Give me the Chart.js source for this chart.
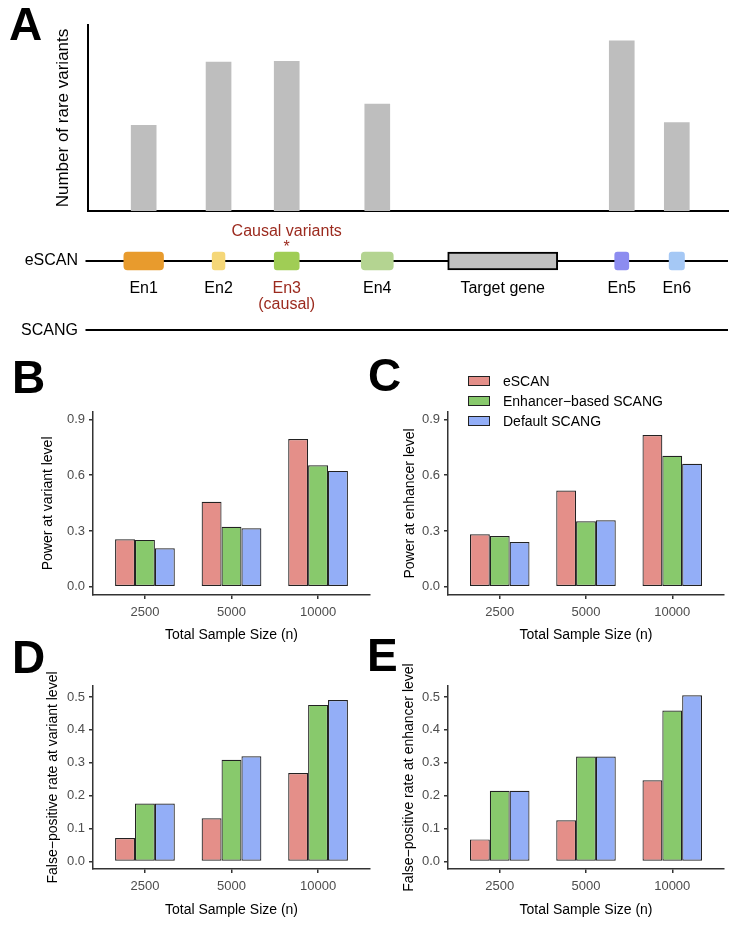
<!DOCTYPE html>
<html>
<head>
<meta charset="utf-8">
<script src="https://cdn.jsdelivr.net/npm/chart.js@4.4.0/dist/chart.umd.min.js"></script>
<style>
  body { margin: 0; background: #fff; }
  #fig { position: relative; width: 750px; height: 930px; overflow: hidden; font-family: 'Liberation Sans', Arial, sans-serif; }
  canvas { position: absolute; }
  .tag { position: absolute; font-weight: bold; font-size: 46px; line-height: 1; color: #000; }
  .legend { position: absolute; left: 468px; top: 371px; font-size: 14px; color: #000; }
  .legend div { height: 20px; display: flex; align-items: center; white-space: nowrap; }
  .legend .box { width: 20px; height: 8px; border: 1px solid #222; margin-right: 13px; }
</style>
</head>
<body>
<div id="fig">
  <canvas id="cA" width="750" height="215" style="left:0;top:0"></canvas>
  <canvas id="cT" width="750" height="130" style="left:0;top:220px"></canvas>
  <canvas id="cB" width="375" height="250" style="left:0;top:400px"></canvas>
  <canvas id="cC" width="375" height="250" style="left:375px;top:400px"></canvas>
  <canvas id="cD" width="375" height="270" style="left:0;top:660px"></canvas>
  <canvas id="cE" width="375" height="270" style="left:375px;top:660px"></canvas>

  <div class="tag" style="left:9px;top:1px">A</div>
  <div class="tag" style="left:12px;top:354px">B</div>
  <div class="tag" style="left:368px;top:352px">C</div>
  <div class="tag" style="left:12px;top:634px">D</div>
  <div class="tag" style="left:367px;top:632px">E</div>

  <div class="legend" id="legend"></div>
</div>

<script>
// ---- data ----
// panel A: enhancers along the locus (position in arbitrary kb units)
const enhancerNames = ['En1', 'En2', 'En3', 'En4', 'En5', 'En6'];
const enhancerStart = [5.6, 19.4, 29.1, 42.7, 82.3, 90.8];
const enhancerEnd = [11.8, 21.4, 33.0, 47.7, 84.5, 93.2];
const rareVariantCounts = [9.2, 16.0, 16.1, 11.5, 18.3, 9.5];
const geneName = 'Target gene';
const geneStart = 56.2;
const geneEnd = 73.4;
const causalEnhancer = 'En3';
const trackLabels = ['eSCAN', 'SCANG'];

// panels B-E
const sampleSizes = ['2500', '5000', '10000'];
const methods = ['eSCAN', 'Enhancer\u2212based SCANG', 'Default SCANG'];

const powerVariantESCAN = [0.255, 0.457, 0.795];
const powerVariantEnhSCANG = [0.252, 0.323, 0.653];
const powerVariantDefSCANG = [0.207, 0.314, 0.623];

const powerEnhancerESCAN = [0.282, 0.518, 0.816];
const powerEnhancerEnhSCANG = [0.273, 0.352, 0.704];
const powerEnhancerDefSCANG = [0.241, 0.357, 0.661];

const fprVariantESCAN = [0.071, 0.131, 0.269];
const fprVariantEnhSCANG = [0.176, 0.309, 0.476];
const fprVariantDefSCANG = [0.176, 0.320, 0.491];

const fprEnhancerESCAN = [0.067, 0.125, 0.247];
const fprEnhancerEnhSCANG = [0.215, 0.319, 0.459];
const fprEnhancerDefSCANG = [0.215, 0.319, 0.505];

const powerTicks = [0, 0.3, 0.6, 0.9];
const fprTicks = [0, 0.1, 0.2, 0.3, 0.4, 0.5];

// ---- styles ----
const methodColors = ['#E48F89', '#88C96C', '#93AEF7'];
const enhancerColors = ['#E89B2D', '#F5D778', '#A0CD55', '#B4D491', '#8C8CF0', '#A5C8F5'];
const CAUSAL_RED = '#9B2A1E';
const SANS = "'Liberation Sans', Arial, sans-serif";

Chart.defaults.font.family = SANS;
Chart.defaults.color = '#000';

// ─────────────────────────────────────────────
//  PANEL A – variant counts + locus track
// ─────────────────────────────────────────────

const enhancerMid = enhancerNames.map((n, i) => (enhancerStart[i] + enhancerEnd[i]) / 2);

new Chart(document.getElementById('cA'), {
  type: 'bar',
  data: {
    datasets: [{
      data: enhancerNames.map((n, i) => ({ x: enhancerMid[i], y: rareVariantCounts[i] })),
      backgroundColor: '#BEBEBE',
      barThickness: 25
    }]
  },
  options: {
    responsive: false,
    animation: false,
    layout: { padding: { top: 25, right: 22 } },
    plugins: { legend: { display: false }, tooltip: { enabled: false } },
    scales: {
      x: {
        type: 'linear', min: 0, max: 100, offset: false,
        grid: { display: false, offset: false },
        ticks: { display: false },
        border: { color: '#000', width: 2 },
        afterFit: s => { s.height = 4; }
      },
      y: {
        min: 0, max: 20,
        grid: { display: false },
        ticks: { display: false },
        border: { color: '#000', width: 2 },
        title: { display: true, text: 'Number of rare variants', color: '#000', font: { size: 17 }, padding: { top: 53 } },
        afterFit: s => { s.width = 88; }
      }
    }
  }
});

const trackPlugin = {
  id: 'track',
  beforeDatasetsDraw(chart) {
    const { ctx, scales: { x, y } } = chart;
    ctx.save();
    ctx.strokeStyle = '#000';
    ctx.lineWidth = 2;
    trackLabels.forEach((lab, i) => {
      const py = Math.round(y.getPixelForValue(i));
      ctx.beginPath();
      ctx.moveTo(x.getPixelForValue(x.min) - 2.5, py);
      ctx.lineTo(x.getPixelForValue(x.max), py);
      ctx.stroke();
    });
    ctx.restore();
  },
  afterDatasetsDraw(chart) {
    const { ctx, scales: { x, y } } = chart;
    const py = y.getPixelForValue(0);
    ctx.save();
    ctx.font = '16px ' + SANS;
    ctx.textAlign = 'center';
    ctx.textBaseline = 'middle';
    enhancerNames.forEach((n, i) => {
      const px = x.getPixelForValue(enhancerMid[i]);
      const causal = n === causalEnhancer;
      ctx.fillStyle = causal ? CAUSAL_RED : '#000';
      ctx.fillText(n, px, py + 28);
      if (causal) {
        ctx.fillText('(causal)', px, py + 44);
        ctx.fillText('Causal variants', px, py - 29);
        ctx.fillText('*', px, py - 13);
      }
    });
    ctx.fillStyle = '#000';
    ctx.fillText(geneName, x.getPixelForValue((geneStart + geneEnd) / 2), py + 28);
    ctx.restore();
  }
};

new Chart(document.getElementById('cT'), {
  type: 'bar',
  data: {
    labels: trackLabels,
    datasets: [{
      data: enhancerNames.map((n, i) => ({ y: trackLabels[0], x: [enhancerStart[i], enhancerEnd[i]] }))
        .concat([{ y: trackLabels[0], x: [geneStart, geneEnd] }]),
      backgroundColor: enhancerColors.concat(['#C0C0C0']),
      borderColor: enhancerColors.concat(['#000']),
      borderWidth: [0, 0, 0, 0, 0, 0, 2],
      borderRadius: [4, 3, 3, 4, 3, 3, 0],
      borderSkipped: false,
      barThickness: 18,
      clip: false
    }]
  },
  options: {
    indexAxis: 'y',
    responsive: false,
    animation: false,
    layout: { padding: { top: 41, bottom: 19, right: 22 } },
    plugins: { legend: { display: false }, tooltip: { enabled: false } },
    scales: {
      x: { type: 'linear', min: 0, max: 100, display: false },
      y: {
        type: 'category', offset: false,
        grid: { display: false, drawTicks: false, offset: false },
        border: { display: false },
        ticks: { color: '#000', padding: 10, font: { family: SANS, size: 16 } },
        afterFit: s => { s.width = 88; }
      }
    }
  },
  plugins: [trackPlugin]
});

// ─────────────────────────────────────────────
//  PANELS B-E – grouped bars
// ─────────────────────────────────────────────

function groupedPanel(id, seriesList, yTitle, yMin, yMax, yTicks, box) {
  new Chart(document.getElementById(id), {
    type: 'bar',
    data: {
      datasets: seriesList.map((vals, k) => ({
        label: methods[k],
        data: vals.map((v, i) => ({ x: i + 1, y: v })),
        backgroundColor: methodColors[k],
        borderColor: '#222',
        borderWidth: 1.2,
        borderSkipped: false,
        categoryPercentage: 0.69,
        barPercentage: 1
      }))
    },
    options: {
      responsive: false,
      animation: false,
      layout: { padding: { top: box.padTop, right: box.padRight } },
      plugins: { legend: { display: false }, tooltip: { enabled: false } },
      scales: {
        x: {
          type: 'linear', min: 0.4, max: 3.6, offset: false,
          afterBuildTicks: s => { s.ticks = sampleSizes.map((_, i) => ({ value: i + 1 })); },
          ticks: { callback: v => sampleSizes[v - 1], color: '#4D4D4D', font: { size: 13 }, padding: 6, maxRotation: 0, autoSkip: false },
          grid: { drawOnChartArea: false, offset: false, tickLength: 4, color: '#333', lineWidth: 1.5 },
          border: { color: '#333', width: 1.5 },
          title: { display: true, text: 'Total Sample Size (n)', color: '#000', font: { size: 14 }, padding: { bottom: box.xTitlePad } },
          afterFit: s => { s.height = box.xAxisH; }
        },
        y: {
          min: yMin, max: yMax,
          afterBuildTicks: s => { s.ticks = yTicks.map(v => ({ value: v })); },
          ticks: { callback: v => v.toFixed(1), color: '#4D4D4D', font: { size: 13 }, padding: 4 },
          grid: { drawOnChartArea: false, tickLength: 4, color: '#333', lineWidth: 1.5 },
          border: { color: '#333', width: 1.5 },
          title: { display: true, text: yTitle, color: '#000', font: { size: 14 }, padding: { top: box.yTitlePad } },
          afterFit: s => { s.width = box.yAxisW; }
        }
      }
    }
  });
}

groupedPanel('cB', [powerVariantESCAN, powerVariantEnhSCANG, powerVariantDefSCANG],
  'Power at variant level', -0.0445, 0.941, powerTicks,
  { padTop: 11, padRight: 5, yAxisW: 93, xAxisH: 55, yTitlePad: 40, xTitlePad: 6.6 });

groupedPanel('cC', [powerEnhancerESCAN, powerEnhancerEnhSCANG, powerEnhancerDefSCANG],
  'Power at enhancer level', -0.0445, 0.941, powerTicks,
  { padTop: 11, padRight: 26, yAxisW: 73, xAxisH: 55, yTitlePad: 26.6, xTitlePad: 6.6 });

groupedPanel('cD', [fprVariantESCAN, fprVariantEnhSCANG, fprVariantDefSCANG],
  'False\u2212positive rate at variant level', -0.023, 0.5335, fprTicks,
  { padTop: 26, padRight: 5, yAxisW: 93, xAxisH: 61, yTitlePad: 45, xTitlePad: 11.6 });

groupedPanel('cE', [fprEnhancerESCAN, fprEnhancerEnhSCANG, fprEnhancerDefSCANG],
  'False\u2212positive rate at enhancer level', -0.023, 0.5335, fprTicks,
  { padTop: 26, padRight: 26, yAxisW: 73, xAxisH: 61, yTitlePad: 25.6, xTitlePad: 11.6 });

// legend (shared, drawn over panel C)
document.getElementById('legend').innerHTML = methods.map((m, k) => `
  <div><span class="box" style="background:${methodColors[k]}"></span><span>${m}</span></div>`).join('');
</script>
</body>
</html>
